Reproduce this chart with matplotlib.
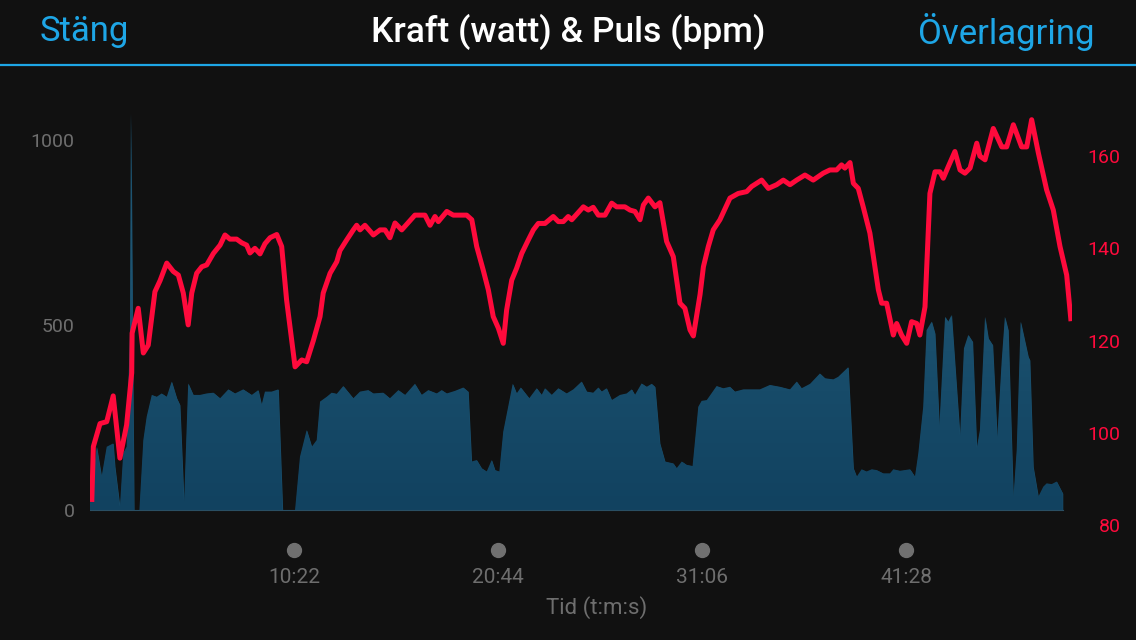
import numpy as np
import matplotlib
matplotlib.use("Agg")
import matplotlib.pyplot as plt
from matplotlib.colors import LinearSegmentedColormap

# time in minutes
hr_t = [0.09, 0.17, 0.51, 0.85, 1.18, 1.52, 1.86, 2.12, 2.14, 2.45, 2.71, 2.96, 3.30, 3.56, 3.90,
        4.23, 4.49, 4.74, 4.99, 5.17, 5.42, 5.68, 5.93, 6.27, 6.61, 6.86, 7.11, 7.45, 7.71, 7.96,
        8.13, 8.38, 8.64, 8.89, 9.15, 9.49, 9.74, 9.99, 10.42, 10.76, 11.01, 11.35, 11.69, 11.85,
        12.20, 12.54, 12.70, 13.04, 13.38, 13.55, 13.72, 13.97, 14.40, 14.74, 14.99, 15.24, 15.50,
        15.84, 16.51, 17.02, 17.28, 17.53, 17.70, 18.13, 18.46, 19.14, 19.40, 19.65, 19.98, 20.24,
        20.49, 20.75, 21.00, 21.17, 21.43, 21.68, 21.94, 22.27, 22.53, 22.78, 23.12, 23.54, 23.80,
        24.05, 24.30, 24.48, 25.07, 25.32, 25.57, 25.83, 26.17, 26.51, 26.76, 27.18, 27.44, 27.69,
        27.95, 28.12, 28.37, 28.71, 28.96, 29.30, 29.64, 29.98, 30.23, 30.49, 30.66, 31.00, 31.17,
        31.42, 31.67, 32.01, 32.52, 32.94, 33.37, 33.62, 34.13, 34.47, 34.89, 35.23, 35.57, 35.91,
        36.33, 36.75, 37.26, 37.60, 37.94, 38.19, 38.36, 38.62, 38.79, 39.04, 39.29, 39.63, 40.06,
        40.23, 40.48, 40.82, 40.99, 41.24, 41.50, 41.75, 42.01, 42.17, 42.43, 42.68, 42.94, 43.19,
        43.36, 43.61, 43.95, 44.21, 44.46, 44.72, 45.06, 45.22, 45.48, 45.90, 46.33, 46.58, 46.92,
        47.34, 47.60, 47.85, 48.19, 48.61, 48.95, 49.29, 49.63, 49.85]
hr_bpm = [85, 97, 102, 102.4, 108, 94.5, 101.7, 113, 121.6, 127, 117.3, 119, 130.6, 133, 136.8,
          135, 134.2, 130.3, 123.4, 130.3, 134.6, 136, 136.4, 138.9, 140.7, 142.9, 142, 142, 141.2, 140.7,
          139, 140, 138.8, 141, 142.3, 143, 140.4, 128.8, 114.3, 115.8, 115.4, 120, 125.2, 130.3,
          134.6, 137.1, 139.5, 141.8, 144, 145, 144, 145, 142.9, 144, 144, 142.3, 145.5,
          144, 147.2, 147.2, 145, 146.9, 145.8, 148, 147.2, 147.2, 146.2, 140.4, 135.3, 131,
          125.2, 122.7, 119.4, 126.6, 133.1, 135.7, 138.9, 141.8, 144, 145.4, 145.4, 146.9, 145.8,
          145.8, 146.9, 146.2, 149, 148.3, 148.9, 147.2, 147.2, 149.8, 149, 149, 148.3, 148,
          146.2, 149.4, 150.9, 149, 149.9, 141.5, 138.2, 128.1, 127, 122.3, 121, 130, 136,
          140.4, 144, 146.2, 150.9, 151.9, 152.3, 153.4, 154.8, 153, 153.8, 154.8, 153.8, 154.8,
          155.9, 154.8, 156.3, 157, 157, 158.1, 157.4, 158.6, 154.1, 153, 149, 143.3, 131,
          128.1, 128.1, 121.2, 123.7, 121.2, 119.4, 124.1, 123.7, 121.2, 127.3, 151.9, 156.6, 156.6,
          155.2, 157.7, 161, 157, 156.3, 157.4, 162.8, 160, 159.2, 166, 162, 162, 166.8,
          162, 162, 167.9, 160.7, 152.7, 148.3, 140.4, 134.2, 124.2]

pw_t = [0.00, 0.00, 0.34, 0.59, 0.85, 1.18, 1.27, 1.52, 1.69, 1.86, 2.03, 2.08, 2.17, 2.24, 2.51,
        2.71, 2.88, 3.14, 3.39, 3.64, 3.90, 4.15, 4.41, 4.57, 4.78, 4.99, 5.25, 5.59, 5.93, 6.27,
        6.61, 7.03, 7.37, 7.79, 8.22, 8.55, 8.72, 8.89, 9.23, 9.57, 9.79, 10.42, 10.67, 11.01,
        11.27, 11.52, 11.69, 12.03, 12.28, 12.54, 12.87, 13.38, 13.72, 14.14, 14.40, 14.90, 15.24,
        15.67, 16.01, 16.51, 16.85, 17.19, 17.62, 17.87, 18.13, 18.55, 18.97, 19.22, 19.39, 19.65,
        19.90, 20.16, 20.41, 20.58, 20.80, 21.00, 21.48, 21.68, 21.89, 22.32, 22.70, 22.95, 23.12,
        23.46, 23.80, 24.22, 24.56, 24.98, 25.24, 25.57, 25.83, 26.00, 26.25, 26.51, 26.93, 27.27,
        27.53, 27.69, 28.03, 28.29, 28.54, 28.71, 28.96, 29.22, 29.64, 29.81, 30.07, 30.32, 30.62,
        30.91, 31.08, 31.34, 31.84, 32.18, 32.52, 32.77, 33.20, 34.04, 34.55, 35.06, 35.57, 35.91,
        36.16, 36.59, 37.09, 37.35, 37.77, 38.02, 38.53, 38.79, 38.96, 39.21, 39.46, 39.72, 39.97,
        40.31, 40.65, 40.82, 41.16, 41.67, 41.92, 42.09, 42.34, 42.51, 42.77, 42.94, 43.16, 43.45,
        43.61, 43.78, 44.21, 44.41, 44.63, 44.85, 45.06, 45.22, 45.48, 45.65, 45.87, 46.10, 46.33,
        46.49, 46.66, 46.92, 47.09, 47.29, 47.68, 47.76, 47.93, 48.19, 48.44, 48.61, 48.87, 49.12,
        49.43, 49.43]
pw_w = [0, 19, 171, 90, 171, 180, 117, 9, 154, 171, 478, 1072, 478, 0, 0,
        189, 252, 311, 306, 315, 306, 347, 302, 284, 18, 342, 311, 311, 315, 317,
        302, 326, 315, 326, 311, 324, 284, 320, 320, 326, 0, 0, 144, 216,
        171, 189, 293, 306, 317, 314, 335, 302, 320, 324, 315, 317, 302,
        324, 311, 341, 311, 324, 315, 324, 315, 322, 331, 320, 131, 135,
        113, 104, 135, 108, 104, 212, 341, 315, 331, 302, 329, 311, 329,
        311, 329, 315, 326, 347, 320, 317, 331, 320, 329, 297, 311, 315,
        326, 311, 342, 333, 341, 333, 180, 131, 126, 113, 131, 122, 119,
        279, 295, 297, 335, 329, 333, 320, 326, 326, 338, 333, 326, 347,
        329, 341, 369, 356, 353, 360, 386, 113, 90, 110, 104, 110, 108,
        99, 99, 110, 106, 110, 90, 153, 279, 486, 509, 477, 225, 522,
        509, 527, 198, 437, 473, 455, 167, 216, 522, 464, 446, 194, 405,
        522, 486, 32, 162, 509, 414, 405, 117, 36, 63, 72, 70, 77,
        45, 0]

tick_min = [10 + 22/60, 20 + 44/60, 31 + 6/60, 41 + 28/60]
tick_lab = ["10:22", "20:44", "31:06", "41:28"]
pw_ticks = [0, 500, 1000]
hr_ticks = [80, 100, 120, 140, 160]

bg = "#111111"
blue = "#1ea6e6"
red = "#ff0a3c"
grey = "#6e6e6e"

fig = plt.figure(figsize=(11.36, 6.4), dpi=100, facecolor=bg)

# header
fig.text(40/1136, 1 - 32/640, "Stäng", color=blue, fontsize=25, family="Roboto", ha="left", va="center")
fig.text(0.5, 1 - 32/640, "Kraft (watt) & Puls (bpm)", color="white", fontsize=25.5, family="Roboto",
         fontweight="medium", ha="center", va="center")
fig.text(1094/1136, 1 - 32/640, "Överlagring", color=blue, fontsize=25, family="Roboto", ha="right", va="center")
fig.add_artist(plt.Line2D([0, 1], [1 - 65/640, 1 - 65/640], color=blue, lw=1.6))

ax = fig.add_axes([90/1136, 1 - 525/640, (1072 - 90)/1136, 415/640])
ax.set_facecolor(bg)
ax.set_xlim(0, 49.9)
ax.set_ylim(-40.5, 1081)

# power area with vertical gradient
poly = ax.fill_between(pw_t, pw_w, 0, color="#1a5270", lw=0, zorder=1)
cmap = LinearSegmentedColormap.from_list("pw", ["#114260", "#25607e"])
grad = np.linspace(0, 1, 256).reshape(-1, 1)
im = ax.imshow(grad, extent=[0, 49.9, 0, 1072], origin="lower", aspect="auto", cmap=cmap, zorder=2)
im.set_clip_path(poly.get_paths()[0], transform=ax.transData)
ax.plot([0, 49.43], [0, 0], color="#2a4f63", lw=0.8, zorder=2)

ax.set_yticks(pw_ticks)
ax.set_yticklabels([str(v) for v in pw_ticks], color=grey, fontsize=14, family="Roboto")
ax.tick_params(axis="y", length=0, pad=11)
ax.set_xticks(tick_min)
ax.set_xticklabels(tick_lab, color=grey, fontsize=15, family="Roboto")
ax.tick_params(axis="x", length=0, pad=31)
ax.set_xlabel("Tid (t:m:s)", color=grey, fontsize=16, family="Roboto")
ax.xaxis.set_label_coords(0.516, -0.172)
for s in ax.spines.values():
    s.set_visible(False)

# dots above time labels
ax.scatter(tick_min, [-0.06] * len(tick_min), s=100, color="#707070",
           transform=ax.get_xaxis_transform(), clip_on=False, zorder=3)

ax2 = ax.twinx()
ax2.set_ylim(80, 170.0)
ax2.plot(hr_t, hr_bpm, color=red, lw=3.6, solid_joinstyle="round", solid_capstyle="butt", zorder=5)
ax2.set_yticks(hr_ticks)
ax2.set_yticklabels([str(v) for v in hr_ticks], color=red, fontsize=14, family="Roboto", ha="right")
ax2.tick_params(axis="y", length=0, pad=35)
for s in ax2.spines.values():
    s.set_visible(False)

fig.savefig("out.png", dpi=100, facecolor=bg)
